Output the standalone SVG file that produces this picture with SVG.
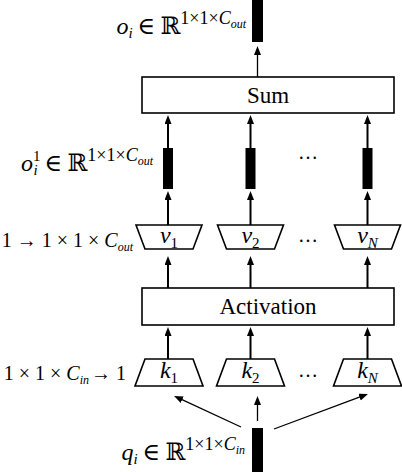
<svg xmlns="http://www.w3.org/2000/svg" width="402" height="472" viewBox="0 0 402 472">
<defs>
<style>
text{font-family:"Liberation Serif","DejaVu Serif",serif;fill:#000}
.m{font-size:24px}
.t{font-size:23px}
.it{font-style:italic}
.sub{font-size:15px}
.sup{font-size:18px}
.ss{font-size:12px}
.box{fill:#fff;stroke:#000;stroke-width:1.6}
.bar{fill:#000}
.ar{stroke:#000;stroke-width:2;fill:none;marker-end:url(#ah)}
.thin{stroke-width:1.3}
.lbl{font-size:20px}
</style>
<marker id="ah" markerUnits="userSpaceOnUse" markerWidth="10" markerHeight="8" refX="2" refY="3.5" orient="auto">
<path d="M0,0 L9,3.5 L0,7 z" fill="#000"/>
</marker>
</defs>

<g id="out-bar"><rect class="bar" x="252" y="0" width="11" height="42"/></g>
<g id="label-oi"><text class="m" x="246" y="34" text-anchor="end"><tspan class="it">o</tspan><tspan class="sub it" dy="4">i</tspan><tspan dy="-4" dx="5">∈</tspan><tspan dx="5">ℝ</tspan><tspan class="sup" dy="-10">1×1×</tspan><tspan class="sup it">C</tspan><tspan class="ss it" dy="4">out</tspan></text></g>

<g id="sum"><rect class="box" x="142" y="77" width="252" height="36"/><text class="t" x="268" y="103" text-anchor="middle">Sum</text></g>

<g id="bars1">
<rect class="bar" x="163" y="148" width="10" height="41"/>
<rect class="bar" x="245.5" y="148" width="10" height="41"/>
<rect class="bar" x="362.5" y="148" width="10" height="41"/>
</g>
<g id="label-oi1"><text class="m" x="153" y="171" text-anchor="end"><tspan class="it">o</tspan><tspan class="sub" dy="-10">1</tspan><tspan class="sub it" dx="-7" dy="14">i</tspan><tspan dy="-4" dx="7">∈</tspan><tspan dx="5">ℝ</tspan><tspan class="sup" dy="-10">1×1×</tspan><tspan class="sup it">C</tspan><tspan class="ss it" dy="4">out</tspan></text></g>
<g id="dots1"><text class="lbl" x="308" y="159" text-anchor="middle">…</text></g>

<g id="v1"><path class="box" d="M136,225 L202,225 L193,249 L145,249 Z"/><text class="m" x="169" y="243" text-anchor="middle"><tspan class="it">v</tspan><tspan class="sub" dy="5">1</tspan></text></g>
<g id="v2"><path class="box" d="M217.5,225 L283.5,225 L274.5,249 L226.5,249 Z"/><text class="m" x="250.5" y="243" text-anchor="middle"><tspan class="it">v</tspan><tspan class="sub" dy="5">2</tspan></text></g>
<g id="vN"><path class="box" d="M334.5,225 L400.5,225 L391.5,249 L343.5,249 Z"/><text class="m" x="367.5" y="243" text-anchor="middle"><tspan class="it">v</tspan><tspan class="sub it" dy="5">N</tspan></text></g>
<g id="dots2"><text class="lbl" x="308" y="242" text-anchor="middle">…</text></g>
<g id="label-v"><text class="lbl" x="133" y="247" text-anchor="end">1 → 1 × 1 × <tspan class="it">C</tspan><tspan class="ss it" dy="4">out</tspan></text></g>

<g id="activation"><rect class="box" x="142" y="288" width="252" height="37"/><text class="t" x="268" y="314" text-anchor="middle">Activation</text></g>

<g id="k1"><path class="box" d="M145,359 L193,359 L203,386 L135,386 Z"/><text class="m" x="169" y="378" text-anchor="middle"><tspan class="it">k</tspan><tspan class="sub" dy="5">1</tspan></text></g>
<g id="k2"><path class="box" d="M226.5,359 L274.5,359 L284.5,386 L216.5,386 Z"/><text class="m" x="250.5" y="378" text-anchor="middle"><tspan class="it">k</tspan><tspan class="sub" dy="5">2</tspan></text></g>
<g id="kN"><path class="box" d="M343.5,359 L391.5,359 L401.5,386 L333.5,386 Z"/><text class="m" x="367.5" y="378" text-anchor="middle"><tspan class="it">k</tspan><tspan class="sub it" dy="5">N</tspan></text></g>
<g id="dots3"><text class="lbl" x="308" y="377" text-anchor="middle">…</text></g>
<g id="label-k"><text class="lbl" x="126" y="380" text-anchor="end">1 × 1 × <tspan class="it">C</tspan><tspan class="ss it" dy="4">in</tspan><tspan dy="-4" dx="2">→ 1</tspan></text></g>

<g id="in-bar"><rect class="bar" x="252" y="428" width="11" height="44"/></g>
<g id="label-qi"><text class="m" x="245" y="460" text-anchor="end"><tspan class="it">q</tspan><tspan class="sub it" dy="4">i</tspan><tspan dy="-4" dx="5">∈</tspan><tspan dx="5">ℝ</tspan><tspan class="sup" dy="-10">1×1×</tspan><tspan class="sup it">C</tspan><tspan class="ss it" dy="4">in</tspan></text></g>

<g id="connectors">
<line class="ar thin" x1="257.5" y1="77" x2="257.5" y2="53"/>
<line class="ar" x1="168" y1="148" x2="168" y2="122"/>
<line class="ar" x1="250.5" y1="148" x2="250.5" y2="122"/>
<line class="ar" x1="367.5" y1="148" x2="367.5" y2="122"/>
<line class="ar" x1="168" y1="225" x2="168" y2="198"/>
<line class="ar" x1="250.5" y1="225" x2="250.5" y2="198"/>
<line class="ar" x1="367.5" y1="225" x2="367.5" y2="198"/>
<line class="ar" x1="168" y1="288" x2="168" y2="263"/>
<line class="ar" x1="250.5" y1="288" x2="250.5" y2="263"/>
<line class="ar" x1="367.5" y1="288" x2="367.5" y2="263"/>
<line class="ar" x1="168" y1="359" x2="168" y2="334"/>
<line class="ar" x1="250.5" y1="359" x2="250.5" y2="334"/>
<line class="ar" x1="367.5" y1="359" x2="367.5" y2="334"/>
<line class="ar thin" x1="241" y1="427" x2="180.4" y2="398.9"/>
<line class="ar thin" x1="257.5" y1="421" x2="257.5" y2="403"/>
<line class="ar thin" x1="274" y1="429" x2="361.4" y2="396.4"/>
</g>
</svg>
